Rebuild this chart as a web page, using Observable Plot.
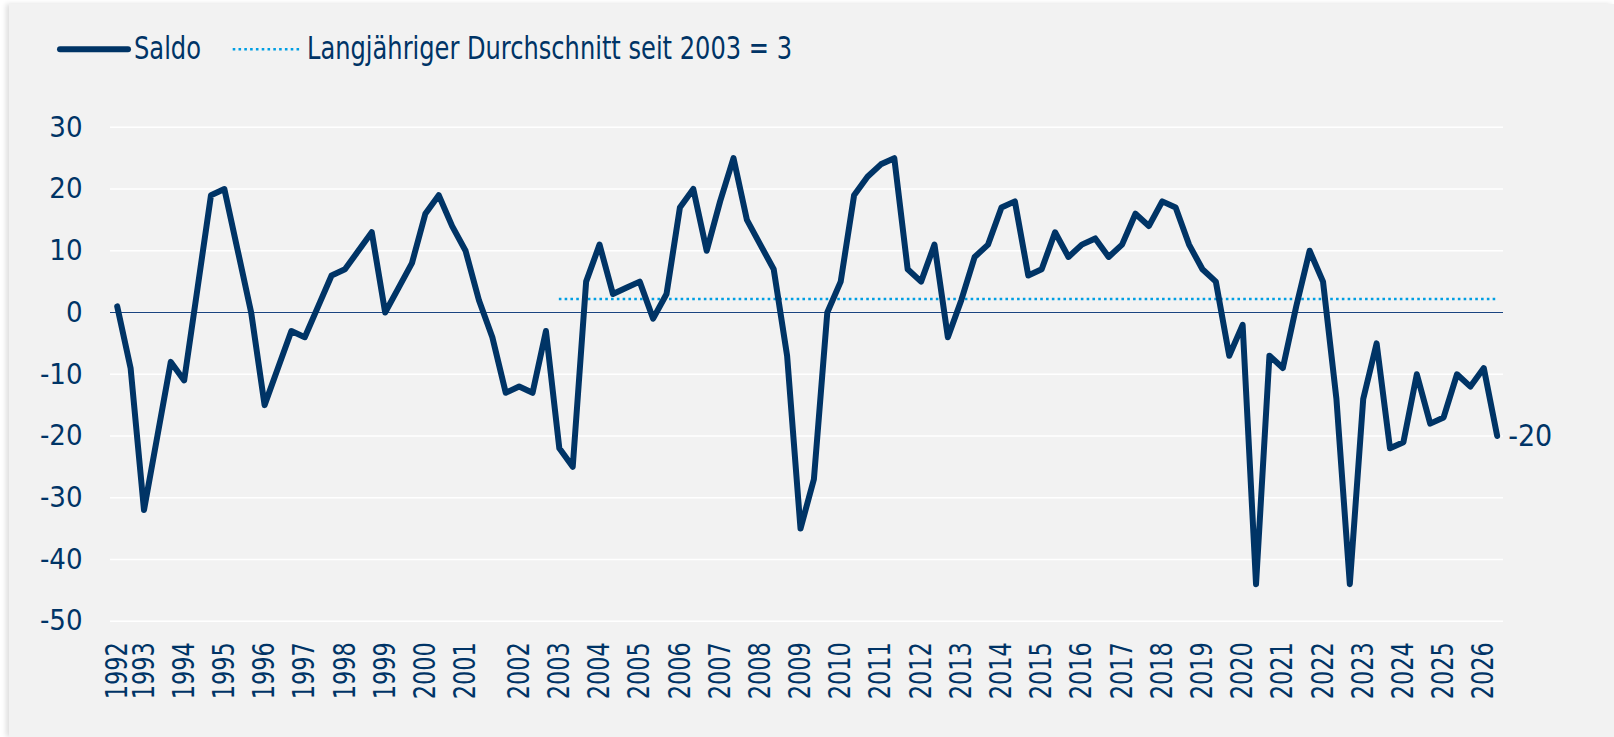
<!DOCTYPE html>
<html>
<head>
<meta charset="utf-8">
<script src="https://cdn.jsdelivr.net/npm/d3@7"></script>
<script src="https://cdn.jsdelivr.net/npm/@observablehq/plot@0.6"></script>
<style>
  html, body { margin: 0; padding: 0; background: #ffffff; width: 1614px; height: 737px; overflow: hidden; }
  #panel { position: absolute; left: 9px; top: 4px; right: 0; bottom: 0; background: #f2f2f2; box-shadow: -3px 0 5px rgba(0,0,0,0.13); }
  #legend { position: absolute; left: 0; top: 0; }
  #chart { position: absolute; left: 0; top: 90px; }
  .ff { font-family: 'Liberation Sans Narrow', 'Arial Narrow', 'DejaVu Sans Condensed', sans-serif; }
</style>
</head>
<body>
<div id="panel"></div>
<svg id="legend" class="ff" width="900" height="90"></svg>
<div id="chart"></div>
<script>
// ---- data ----
const saldo = [
  1, -9, -32, -20, -8, -11, 4, 19, 20, 10,
  0, -15, -9, -3, -4, 1, 6, 7, 10, 13,
  0, 4, 8, 16, 19, 14, 10, 2, -4, -13,
  -12, -13, -3, -22, -25, 5, 11, 3, 4, 5,
  -1, 3, 17, 20, 10, 18, 25, 15, 11, 7,
  -7, -35, -27, 0, 5, 19, 22, 24, 25, 7,
  5, 11, -4, 2, 9, 11, 17, 18, 6, 7,
  13, 9, 11, 12, 9, 11, 16, 14, 18, 17,
  11, 7, 5, -7, -2, -44, -7, -9, 1, 10,
  5, -14, -44, -14, -5, -22, -21, -10, -18, -17,
  -10, -12, -9, -20
];
const tickYears = [1992, 1993, 1994, 1995, 1996, 1997, 1998, 1999, 2000, 2001,
  2002, 2003, 2004, 2005, 2006, 2007, 2008, 2009, 2010, 2011, 2012, 2013, 2014,
  2015, 2016, 2017, 2018, 2019, 2020, 2021, 2022, 2023, 2024, 2025, 2026];
const tickIndex = [0, 2, 5, 8, 11, 14, 17, 20, 23, 26,
  30, 33, 36, 39, 42, 45, 48, 51, 54, 57, 60, 63, 66,
  69, 72, 75, 78, 81, 84, 87, 90, 93, 96, 99, 102];
const yTicks = [30, 20, 10, 0, -10, -20, -30, -40, -50];
const averageValue = 2.2;          // drawn level of the dotted average line
const averageStartYear = 2003;
const seriesName = "Saldo";
const averageName = "Langjähriger Durchschnitt seit 2003 = 3";

// ---- styling ----
const navy = "#003466";
const cyan = "#009fe3";
const fontFamily = "'Liberation Sans Narrow', 'Arial Narrow', 'DejaVu Sans Condensed', sans-serif";

const points = saldo.map((v, i) => ({i, v}));
const ticks = tickYears.map((y, k) => ({i: tickIndex[k], label: String(y)}));
const lastIdx = saldo.length - 1;
const avgStart = tickIndex[tickYears.indexOf(averageStartYear)];

const chart = Plot.plot({
  width: 1614,
  height: 640,
  marginLeft: 110,
  marginRight: 111,
  marginTop: 36.8,
  marginBottom: 109.3,
  x: {type: "linear", domain: [0, lastIdx], insetLeft: 6.7, insetRight: 6.3, axis: null},
  y: {domain: [-50, 30], axis: null},
  style: {background: "transparent", fontFamily, fontSize: "29px", color: navy},
  marks: [
    Plot.gridY(yTicks, {stroke: "#ffffff", strokeOpacity: 1, strokeWidth: 1.6}),
    Plot.ruleY([0], {stroke: "#1a4480", strokeWidth: 1.2}),
    Plot.ruleY([averageValue], {x1: avgStart, x2: lastIdx, stroke: cyan, strokeWidth: 2.6, strokeDasharray: "2.6,3.2"}),
    Plot.line(points, {x: "i", y: "v", stroke: navy, strokeWidth: 6, strokeLinejoin: "round", strokeLinecap: "round"}),
    Plot.axisY(yTicks, {label: null, tickSize: 0, tickPadding: 28, fontSize: 29, tickFormat: d => String(d)}),
    Plot.text(ticks, {x: "i", text: "label", frameAnchor: "bottom", rotate: -90, textAnchor: "end", lineAnchor: "middle", dy: 21, fontSize: 30, fill: navy, className: "xticks"}),
    Plot.text([points[lastIdx]], {x: "i", y: "v", text: d => String(d.v), textAnchor: "start", dx: 11, fontSize: 30, fill: navy})
  ]
});
document.getElementById("chart").appendChild(chart);
// narrow the rotated year labels to the reference's condensed width
d3.select(chart).selectAll(".xticks text").attr("textLength", 57).attr("lengthAdjust", "spacingAndGlyphs");

// ---- legend ----
const lg = d3.select("#legend");
lg.append("line").attr("x1", 60).attr("x2", 128).attr("y1", 49.3).attr("y2", 49.3)
  .attr("stroke", navy).attr("stroke-width", 6).attr("stroke-linecap", "round");
lg.append("text").attr("x", 134).attr("y", 59.3).attr("fill", navy).attr("font-size", 32)
  .attr("textLength", 67).attr("lengthAdjust", "spacingAndGlyphs").text(seriesName);
lg.append("line").attr("x1", 232.7).attr("x2", 300.7).attr("y1", 49.3).attr("y2", 49.3)
  .attr("stroke", cyan).attr("stroke-width", 2.6).attr("stroke-dasharray", "2.6,3.2");
lg.append("text").attr("x", 307).attr("y", 59.3).attr("fill", navy).attr("font-size", 32)
  .attr("textLength", 485).attr("lengthAdjust", "spacingAndGlyphs").text(averageName);
</script>
</body>
</html>
